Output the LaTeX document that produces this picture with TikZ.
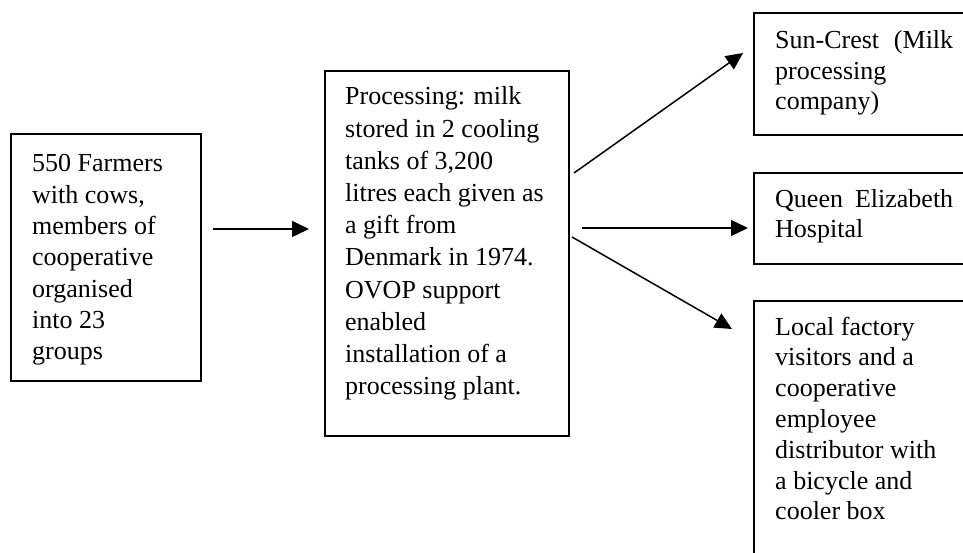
\documentclass[tikz,border=0pt]{standalone}
\usepackage{fontspec}
\setmainfont{Liberation Serif}
\usetikzlibrary{arrows.meta}

\tikzset{
  box/.style={draw=black, line width=1.6pt, fill=none, rectangle, inner sep=0pt, anchor=north west},
  label/.style={inner sep=0pt, anchor=base west},
  flow/.style={line width=1.5pt, -{Triangle[length=17pt,width=16pt]}},
}
% #1 width, #2 line pitch, #3 lines
\newcommand{\boxtext}[3]{\parbox[t]{#1}{\fontsize{26}{#2}\selectfont\raggedright #3}}
\newcommand{\fullline}[2]{\leavevmode\hbox to #1{#2}}

\begin{document}
\begin{tikzpicture}[x=1pt, y=-1pt]
  \useasboundingbox (0,0) rectangle (963,553);
  \clip (0,0) rectangle (963,553);

  % boxes (the right-hand column runs past the page edge)
  \node[box, minimum width=190pt, minimum height=247pt] (farmers) at (10,133) {};
  \node[box, minimum width=244pt, minimum height=365pt] (plant) at (324,70) {};
  \node[box, minimum width=260pt, minimum height=122pt] (suncrest) at (753,12) {};
  \node[box, minimum width=260pt, minimum height=91pt] (hospital) at (753,172) {};
  \node[box, minimum width=260pt, minimum height=320pt] (local) at (753,300) {};

  % texts
  \node[label] (farmersT) at (32,172) {\boxtext{170pt}{31.3pt}{550 Farmers\\ with cows,\\ members of\\ cooperative\\ organised\\ into 23\\ groups}};
  \node[label] (plantT) at (345,105) {\boxtext{215pt}{32.2pt}{Processing: milk\\ stored in 2 cooling\\ tanks of 3,200\\ litres each given as\\ a gift from\\ Denmark in 1974.\\ OVOP support\\ enabled\\ installation of a\\ processing plant.}};
  \node[label] (suncrestT) at (775,49) {\boxtext{178pt}{30.5pt}{\fullline{178pt}{Sun-Crest\hfill(Milk}\\ processing\\ company)}};
  \node[label] (hospitalT) at (775,208) {\boxtext{178pt}{30pt}{\fullline{178pt}{Queen\hfill Elizabeth}\\ Hospital}};
  \node[label] (localT) at (775,335) {\boxtext{185pt}{30.8pt}{Local factory\\ visitors and a\\ cooperative\\ employee\\ distributor with\\ a bicycle and\\ cooler box}};

  % connector end points
  \coordinate (f1) at (213,229);
  \coordinate (f2) at (309,229);
  \coordinate (s1) at (574,173);
  \coordinate (s2) at (743,53);
  \coordinate (h1) at (582,228);
  \coordinate (h2) at (748,228);
  \coordinate (l1) at (572,237);
  \coordinate (l2) at (732,329);

  \draw[flow] (f1) -- (f2);
  \draw[flow] (s1) -- (s2);
  \draw[flow] (h1) -- (h2);
  \draw[flow] (l1) -- (l2);
\end{tikzpicture}
\end{document}
